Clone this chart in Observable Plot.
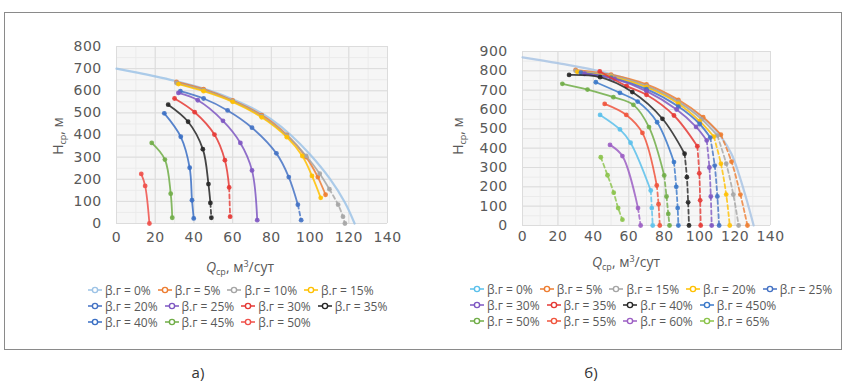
<!DOCTYPE html>
<html><head><meta charset="utf-8">
<script src="https://cdn.jsdelivr.net/npm/d3@7"></script>
<script src="https://cdn.jsdelivr.net/npm/@observablehq/plot@0.6"></script>
<style>
body{margin:0;width:843px;height:385px;position:relative;background:#fff;font-family:"Open Sans",sans-serif;color:#595959;overflow:hidden}
.abs{position:absolute}
.box{left:4px;top:12px;width:838px;height:338px;border:1px solid #8a8a8a;box-sizing:border-box}
.ttl{font-size:14px;white-space:nowrap;transform:translate(-50%,-50%);color:#595959}
.ttl sub{font-size:9px;vertical-align:-3px}
.ttl sup{font-size:9px;vertical-align:5px}
.yl{transform:translate(-50%,-50%) rotate(-90deg)}
.row{display:flex;font-size:12px;white-space:nowrap;align-items:center;height:16px}
.item{display:flex;align-items:center;margin-right:7px}
.item svg{margin-right:3px}
.cap{font-size:15px;color:#333;transform:translate(-50%,-50%);font-family:"Liberation Sans Narrow","Open Sans",sans-serif}
</style></head>
<body>
<div class="abs box"></div>
<div id="chartA" class="abs" style="left:60px;top:20px"></div>
<div id="chartB" class="abs" style="left:460px;top:20px"></div>
<div class="abs ttl yl" style="left:58px;top:136px">H<sub>ср</sub>, м</div>
<div class="abs ttl yl" style="left:458px;top:136px">H<sub>ср</sub>, м</div>
<div class="abs ttl" style="left:240px;top:267px"><i>Q</i><sub>ср</sub>, м<sup>3</sup>/сут</div>
<div class="abs ttl" style="left:626px;top:262px"><i>Q</i><sub>ср</sub>, м<sup>3</sup>/сут</div>
<div id="legA" class="abs" style="left:88px;top:282px"></div>
<div id="legB" class="abs" style="left:470px;top:281px"></div>
<div class="abs cap" style="left:198px;top:372px">а)</div>
<div class="abs cap" style="left:591px;top:372px">б)</div>
<script>
// ---------- shared ticks ----------
const xTicks = [0, 20, 40, 60, 80, 100, 120, 140];
const yTicksA = [0, 100, 200, 300, 400, 500, 600, 700, 800];
const yTicksB = [0, 100, 200, 300, 400, 500, 600, 700, 800, 900];

// ---------- chart а) ----------
const labelsA = ["β.г = 0%", "β.г = 5%", "β.г = 10%", "β.г = 15%", "β.г = 20%", "β.г = 25%", "β.г = 30%", "β.г = 35%", "β.г = 40%", "β.г = 45%", "β.г = 50%"];
const colorsA = ["#9DC3E6", "#ED7D31", "#A5A5A5", "#FFC000", "#4472C4", "#7E57C2", "#E53935", "#262626", "#3A6FC4", "#70AD47", "#F0504A"];
const A0 = [[0,700],[10,683],[20,665],[30,645],[40,622],[50,595],[60,562],[70,522],[80,470],[90,400],[100,312],[110,205],[118,95],[123,0]];
const A5 = [[31,640],[45,607],[60,556],[75,490],[88,400],[98,300],[104,210],[108,130]];
const A10 = [[31,635],[45,603],[60,553],[75,485],[88,398],[98,305],[105,225],[110,155]];
const A10d = [[110,155],[114.5,85],[117,31],[118,0]];
const A15 = [[32,630],[45,598],[60,550],[75,480],[88,390],[96,305],[101,215],[105.5,116]];
const A20 = [[33,598],[45,565],[57.4,511],[70,433],[82.6,317],[89,210],[93.7,85]];
const A20d = [[93.7,85],[95.4,15]];
const A25 = [[32,590],[42,557],[55,464],[64,364],[70,240],[72.7,15]];
const A30 = [[30,565],[40.4,503],[50.6,402],[56,286],[58.2,163]];
const A30d = [[58.2,163],[58.7,31]];
const A35 = [[26.7,537],[37,460],[44.6,336],[47.5,178],[48.5,93]];
const A35d = [[48.5,93],[49,26]];
const A40 = [[24.7,498],[33.2,392],[37.8,252],[39,105],[39.9,23]];
const A45 = [[18.2,364],[25,289],[28,135],[28.8,26]];
const A50 = [[12.8,224],[14.8,170],[17,0]];
const seriesA = [
  {c:0, solid:A0, dashed:[], dots:false},
  {c:1, solid:A5, dashed:[]},
  {c:2, solid:A10, dashed:A10d},
  {c:3, solid:A15, dashed:[]},
  {c:4, solid:A20, dashed:A20d},
  {c:5, solid:A25, dashed:[]},
  {c:6, solid:A30, dashed:A30d},
  {c:7, solid:A35, dashed:A35d},
  {c:8, solid:A40, dashed:[]},
  {c:9, solid:A45, dashed:[]},
  {c:10, solid:A50, dashed:[]}
];

// ---------- chart б) ----------
const labelsB = ["β.г = 0%", "β.г = 5%", "β.г = 15%", "β.г = 20%", "β.г = 25%", "β.г = 30%", "β.г = 35%", "β.г = 40%", "β.г = 450%", "β.г = 50%", "β.г = 55%", "β.г = 60%", "β.г = 65%"];
const colorsB = ["#5BC0EB", "#ED7D31", "#A5A5A5", "#FFC000", "#4472C4", "#7E57C2", "#E53935", "#262626", "#3A78C9", "#70AD47", "#F0543C", "#9C5FC4", "#8BC34A"];
const envelopeB = [[0,870],[20,840],[40,805],[60,755],[80,680],[95,600],[105,530],[112,460],[118,370],[122,270],[126,150],[130.5,0]];
const B0 = [[43.8,572],[55,497],[61,428],[72.4,181]];
const B0d = [[72.4,181],[73,90],[73.5,0]];
const B5 = [[30,805],[50,780],[70,730],[88,650],[102,560],[112,470]];
const B5d = [[112,470],[118,330],[123,160],[127,0]];
const B15 = [[30,800],[50,775],[70,722],[88,640],[101,550],[110,465]];
const B15d = [[110,465],[115,320],[119,160],[122,0]];
const B20 = [[31,795],[50,770],[70,715],[88,630],[100,540],[108,460]];
const B20d = [[108,460],[112,320],[115,160],[117,0]];
const B25 = [[33,790],[50,765],[70,705],[88,615],[100,525],[106,455]];
const B25d = [[106,455],[108.5,310],[110,150],[111,0]];
const B30 = [[35,785],[52,758],[70,695],[87,600],[98,510],[104,440]];
const B30d = [[104,440],[105.5,300],[106.3,150],[106.8,0]];
const B35 = [[43.6,797],[58.8,721],[70,676],[85.5,569],[98.7,410]];
const B35d = [[98.7,410],[99.8,270],[100.3,130],[100.6,0]];
const B40 = [[26.3,779],[43.8,767],[62,690],[79,552],[91.5,371]];
const B40d = [[91.5,371],[92.8,250],[93.5,120],[94,0]];
const B450 = [[41.4,741],[55,686],[65,641],[76,534],[85.5,328]];
const B450d = [[85.5,328],[86.8,200],[87.6,90],[88,0]];
const B50 = [[22.5,733],[36.7,703],[51.3,664],[62.6,624],[71.4,509],[80,259]];
const B50d = [[80,259],[81.3,150],[82.3,60],[83,0]];
const B55 = [[46.4,629],[58.6,572],[67.7,479],[75.8,207]];
const B55d = [[75.8,207],[76.8,110],[77.5,0]];
const B60 = [[49.4,417],[56.4,359],[65.2,90]];
const B60d = [[65.2,90],[66.7,0]];
const B65d = [[44.2,353],[48,260],[51.5,170],[54,90],[56.4,30]];
const seriesB = [
  {c:0, solid:envelopeB, dashed:[], dots:false, color:"#A9C4E4"},
  {c:1, solid:B5, dashed:B5d},
  {c:2, solid:B15, dashed:B15d},
  {c:3, solid:B20, dashed:B20d},
  {c:4, solid:B25, dashed:B25d},
  {c:5, solid:B30, dashed:B30d},
  {c:6, solid:B35, dashed:B35d},
  {c:7, solid:B40, dashed:B40d},
  {c:8, solid:B450, dashed:B450d},
  {c:9, solid:B50, dashed:B50d},
  {c:10, solid:B55, dashed:B55d},
  {c:0, solid:B0, dashed:B0d},
  {c:11, solid:B60, dashed:B60d},
  {c:12, solid:[], dashed:B65d}
];

function minor(step, max) { return d3.range(0, max + 0.001, step); }

function makeChart(series, colors, yTicks, opts) {
  const ymax = yTicks[yTicks.length - 1];
  const marks = [
    Plot.frame({fill: "#f6f6f6", stroke: null}),
    Plot.gridX(minor(10, 140), {stroke: "#ebebeb", strokeOpacity: 1}),
    Plot.gridY(minor(50, ymax), {stroke: "#ebebeb", strokeOpacity: 1}),
    Plot.gridX(xTicks, {stroke: "#dcdcdc", strokeOpacity: 1}),
    Plot.gridY(yTicks, {stroke: "#dcdcdc", strokeOpacity: 1})
  ];
  for (const s of series) {
    const col = s.color || colors[s.c];
    if (s.solid.length) marks.push(Plot.line(s.solid, {x: d => d[0], y: d => d[1], stroke: col, strokeWidth: s.dots === false ? 2.2 : 1.8, strokeOpacity: 0.85, curve: "catmull-rom"}));
    if (s.dashed.length) marks.push(Plot.line(s.dashed, {x: d => d[0], y: d => d[1], stroke: col, strokeWidth: 1.8, strokeOpacity: 0.8, strokeDasharray: "4,3", curve: "catmull-rom"}));
    if (s.dots !== false) {
      const pts = s.solid.concat(s.dashed.slice(s.solid.length ? 1 : 0));
      marks.push(Plot.dot(pts, {x: d => d[0], y: d => d[1], fill: col, r: 2.4, fillOpacity: 0.9}));
    }
  }
  marks.push(Plot.axisX(xTicks, {tickSize: 0, tickPadding: opts.xPad, fontSize: 14, label: null, fill: "#595959"}));
  marks.push(Plot.axisY(yTicks, {tickSize: 0, tickPadding: 15, fontSize: 14, label: null, fill: "#595959"}));
  return Plot.plot({
    width: opts.width, height: 230,
    marginLeft: opts.ml, marginRight: opts.mr, marginTop: opts.mt, marginBottom: opts.mb,
    style: {fontFamily: "DejaVu Sans, sans-serif", fontSize: "14px", background: "transparent", overflow: "visible", letterSpacing: "0.4px"},
    x: {domain: [0, 140], axis: null},
    y: {domain: [0, ymax], axis: null},
    marks
  });
}

document.getElementById("chartA").append(makeChart(seriesA, colorsA, yTicksA, {width: 350, ml: 56, mr: 23, mt: 26, mb: 27, xPad: 9}));
document.getElementById("chartB").append(makeChart(seriesB, colorsB, yTicksB, {width: 340, ml: 62, mr: 30, mt: 31, mb: 25, xPad: 6}));

function legend(el, labels, colors, rows) {
  let i = 0;
  for (const n of rows) {
    const row = document.createElement("div");
    row.className = "row";
    for (let k = 0; k < n && i < labels.length; k++, i++) {
      const it = document.createElement("div");
      it.className = "item";
      it.innerHTML = `<svg width="14" height="10"><line x1="0" x2="14" y1="5" y2="5" stroke="${colors[i]}" stroke-width="1.5"/><circle cx="7" cy="5" r="2.6" fill="#fff" stroke="${colors[i]}" stroke-width="1.4"/></svg><span>${labels[i]}</span>`;
      row.append(it);
    }
    el.append(row);
  }
}
legend(document.getElementById("legA"), labelsA, colorsA, [4, 4, 3]);
legend(document.getElementById("legB"), labelsB, colorsB, [5, 4, 4]);
</script>
</body></html>
